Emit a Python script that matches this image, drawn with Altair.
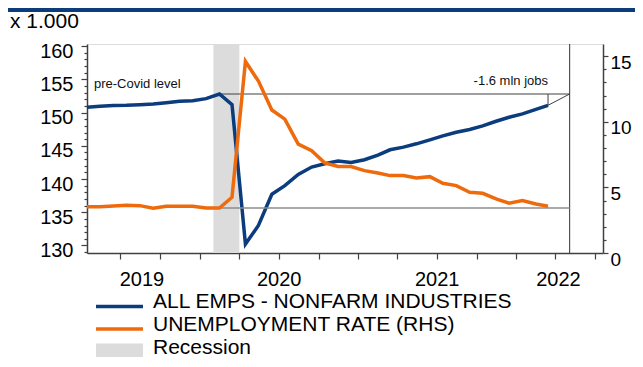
import altair as alt
import pandas as pd

# ---------------- data ----------------
months = [f"{y}-{m:02d}" for y, m in
          [(2019, m) for m in range(4, 13)] + [(2020, m) for m in range(1, 13)] +
          [(2021, m) for m in range(1, 13)] + [(2022, m) for m in range(1, 4)]]

employment = [150.8, 150.96, 151.07, 151.1, 151.2, 151.3, 151.5, 151.7, 151.8,
              152.1, 152.8, 151.2, 130.2, 133.0, 137.7, 139.0, 140.7, 141.8,
              142.3, 142.7, 142.5, 142.9, 143.6, 144.4, 144.8, 145.3, 145.9,
              146.5, 147.05, 147.45, 148.0, 148.7, 149.3, 149.8, 150.5, 151.1]

unemployment = [3.53, 3.53, 3.58, 3.63, 3.61, 3.41, 3.56, 3.56, 3.56,
                3.43, 3.43, 4.25, 14.6, 13.1, 10.9, 10.2, 8.3, 7.8,
                6.87, 6.59, 6.59, 6.28, 6.1, 5.9, 5.9, 5.72, 5.82,
                5.31, 5.14, 4.63, 4.55, 4.12, 3.79, 3.99, 3.74, 3.56]

recession = ["2020-02-01", "2020-04-01"]
precovid_month = "2020-02"
marker_date = "2022-05-04"
year_labels = ["2019", "2020", "2021", "2022"]
year_label_dates = ["2019-08-20", "2020-07-02", "2021-07-02", "2022-04-08"]
quarter_ticks = [(2019, 7), (2019, 10), (2020, 1), (2020, 4), (2020, 7), (2020, 10),
                 (2021, 1), (2021, 4), (2021, 7), (2021, 10), (2022, 1), (2022, 4), (2022, 7)]

legend_labels = ["ALL EMPS - NONFARM INDUSTRIES", "UNEMPLOYMENT RATE (RHS)", "Recession"]

BLUE = "#0b3c7d"
ORANGE = "#ee6a0c"
GREY = "#dcdcdc"
FONT = "Liberation Sans"

W, H = 516, 209

dates = [m + "-15T00:00:00" for m in months]
df = pd.DataFrame({"date": dates, "emp": employment, "unemp": unemployment})

i0 = months.index(precovid_month)
emp_level = employment[i0]
unemp_level = unemployment[i0]
first_date, last_date = dates[0], dates[-1]
peak_date = dates[i0]
marker = marker_date + "T00:00:00"

# ---------------- scales / axes ----------------
x_scale = alt.Scale(domain=[alt.DateTime(year=2019, month=4, date=15),
                            alt.DateTime(year=2022, month=7, date=20)])
x_axis = alt.Axis(values=[alt.DateTime(year=y, month=m, date=1) for y, m in quarter_ticks],
                  labels=False, tickSize=6, tickColor="#404040", domainColor="#404040",
                  domainWidth=1.5, tickWidth=1.2, grid=False, title=None)


def X(field):
    return alt.X(field, type="temporal", scale=x_scale, axis=x_axis, title=None)


emp_scale = alt.Scale(domain=[128.86, 160.33], nice=False, zero=False)
emp_axis = alt.Axis(orient="left", values=list(range(129, 161)),
                    labelExpr="datum.value % 5 === 0 ? datum.label : ''",
                    tickSize={"condition": {"test": "datum.value % 5 === 0", "value": 6}, "value": 3},
                    labelOverlap=False, labelFlush=False, labelFontSize=20, labelColor="#000",
                    labelOffset=5, labelPadding=8, tickColor="#404040", domainColor="#404040",
                    domainWidth=1.5, tickWidth=1.2, grid=False, title=None)

un_scale = alt.Scale(domain=[0, 15.93], nice=False, zero=False)
un_axis = alt.Axis(orient="right", values=list(range(0, 16)),
                   labelExpr="datum.value % 5 === 0 ? datum.label : ''",
                   tickSize={"condition": {"test": "datum.value % 5 === 0", "value": 5}, "value": 3},
                   labelOverlap=False, labelFlush=False, labelFontSize=19, labelColor="#000",
                   labelOffset=6, labelPadding=2, tickColor="#404040", domainColor="#404040",
                   domainWidth=1.5, tickWidth=1.2, grid=False, title=None)


def YE(field):
    return alt.Y(field, type="quantitative", scale=emp_scale, axis=emp_axis, title=None)


def YU(field):
    return alt.Y(field, type="quantitative", scale=un_scale, axis=un_axis, title=None)


# ---------------- layers ----------------
rec_df = pd.DataFrame({"start": [recession[0] + "T00:00:00"], "end": [recession[1] + "T00:00:00"]})
rec = alt.Chart(rec_df).mark_rect(color=GREY).encode(
    x=X("start"), x2="end", y=alt.value(0), y2=alt.value(H))

vline = alt.Chart(pd.DataFrame({"date": [marker]})).mark_rule(color="#333333", strokeWidth=1).encode(
    x=X("date"), y=alt.value(0), y2=alt.value(H))

emp_line = alt.Chart(df).mark_line(color=BLUE, strokeWidth=3.5).encode(x=X("date"), y=YE("emp"))

lvl_df = pd.DataFrame({"date": [peak_date], "date2": [marker], "v": [emp_level]})
emp_lvl = alt.Chart(lvl_df).mark_rule(color="#404040", strokeWidth=1).encode(
    x=X("date"), x2="date2", y=YE("v"))

pre_txt = alt.Chart(pd.DataFrame({"date": [first_date], "v": [emp_level], "t": ["pre-Covid level"]})).mark_text(
    align="left", baseline="middle", dx=7, dy=-10, fontSize=13, font=FONT, color="#111").encode(
    x=X("date"), y=YE("v"), text="t:N")

lead_df = pd.DataFrame({"date": [marker], "date2": [last_date], "v": [emp_level], "v2": [employment[-1]]})
lead_diag = alt.Chart(lead_df).mark_rule(color="#404040", strokeWidth=1).encode(
    x=X("date"), x2="date2", y=YE("v"), y2="v2")
lead_vert = alt.Chart(lead_df).mark_rule(color="#404040", strokeWidth=1).encode(
    x=X("date2"), y=YE("v"), y2="v2")

jobs_txt = alt.Chart(pd.DataFrame({"date": [last_date], "v": [emp_level], "t": ["-1.6 mln jobs"]})).mark_text(
    align="right", baseline="middle", dy=-13, fontSize=13, font=FONT, color="#111").encode(
    x=X("date"), y=YE("v"), text="t:N")

emp_group = alt.layer(emp_lvl, lead_diag, lead_vert, emp_line, pre_txt, jobs_txt)

un_lvl = alt.Chart(pd.DataFrame({"date": [peak_date], "date2": [marker], "v": [unemp_level]})).mark_rule(
    color="#8c8c8c", strokeWidth=1.5).encode(x=X("date"), x2="date2", y=YU("v"))
un_line = alt.Chart(df).mark_line(color=ORANGE, strokeWidth=3.5).encode(x=X("date"), y=YU("unemp"))
un_group = alt.layer(un_lvl, un_line)

years = alt.Chart(pd.DataFrame({"date": [d + "T00:00:00" for d in year_label_dates], "t": year_labels})).mark_text(
    baseline="middle", align="center", fontSize=20, font=FONT, color="#000").encode(
    x=X("date"), y=alt.value(H + 27), text="t:N")

unit = alt.Chart(pd.DataFrame({"t": ["x 1.000"]})).mark_text(
    align="left", baseline="middle", fontSize=21, font=FONT, color="#000").encode(
    x=alt.value(-77), y=alt.value(-22), text="t:N")

topbar = alt.Chart(pd.DataFrame({"a": [0]})).mark_rect(color="#0a3d7a").encode(
    x=alt.value(-79), x2=alt.value(548), y=alt.value(-36), y2=alt.value(-32))

# custom legend
leg_layers = []
for i, (lab, col) in enumerate(zip(legend_labels[:2], [BLUE, ORANGE])):
    yl = 262.5 + 22.5 * i
    leg_layers.append(alt.Chart(pd.DataFrame({"t": [lab]})).mark_rule(color=col, strokeWidth=3.5).encode(
        x=alt.value(9), x2=alt.value(56), y=alt.value(yl)))
    leg_layers.append(alt.Chart(pd.DataFrame({"t": [lab]})).mark_text(
        align="left", baseline="middle", fontSize=21, font=FONT, color="#000").encode(
        x=alt.value(66), y=alt.value(yl - 4.5), text="t:N"))
leg_layers.append(alt.Chart(pd.DataFrame({"t": [legend_labels[2]]})).mark_rect(color=GREY).encode(
    x=alt.value(9), x2=alt.value(56), y=alt.value(299.5), y2=alt.value(313)))
leg_layers.append(alt.Chart(pd.DataFrame({"t": [legend_labels[2]]})).mark_text(
    align="left", baseline="middle", fontSize=21, font=FONT, color="#000").encode(
    x=alt.value(66), y=alt.value(303.5), text="t:N"))

chart = alt.layer(rec, vline, emp_group, un_group, years, unit, topbar, *leg_layers).resolve_scale(
    y="independent").properties(
    width=W, height=H,
    padding={"left": 79, "top": 36, "right": 32, "bottom": 105},
    autosize=alt.AutoSizeParams(type="none"),
    background="white",
).configure_view(stroke="#a0a0a0", strokeWidth=1.5).configure(font=FONT)

chart.save("out.html", embed_options={"renderer": "svg", "actions": False})
